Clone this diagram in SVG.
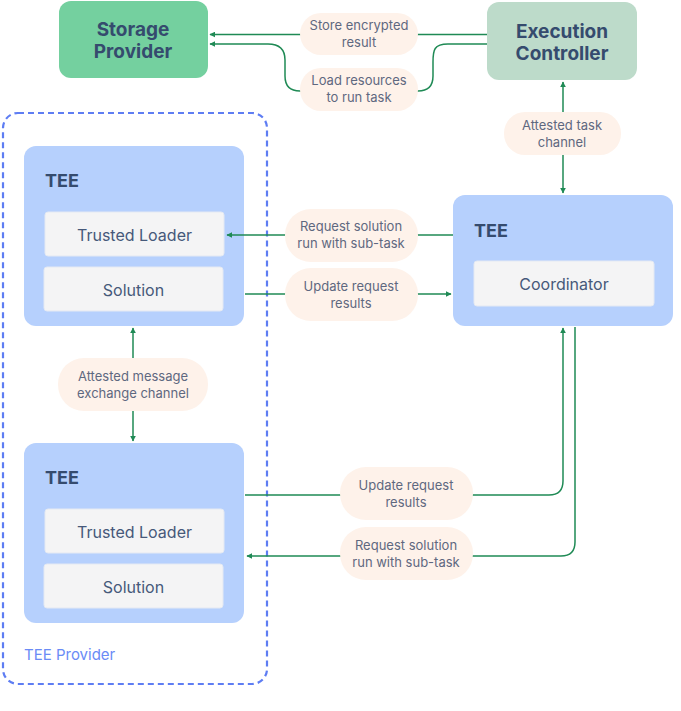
<svg xmlns="http://www.w3.org/2000/svg" width="681" height="711" viewBox="0 0 681 711">
<defs>
<marker id="ah" viewBox="0 0 10 10" refX="9" refY="5" markerWidth="6" markerHeight="6" orient="auto-start-reverse" markerUnits="userSpaceOnUse">
<path d="M0,0 L10,5 L0,10 Z" fill="#1F8A55"/>
</marker>
<style>
.title{font-family:Inter,"Noto Sans",sans-serif;font-weight:700;fill:#354B6E;font-size:19px;text-anchor:middle}
.tee{font-family:Inter,"Noto Sans",sans-serif;font-weight:700;fill:#354B6E;font-size:18px}
.inner{font-family:Inter,"Noto Sans",sans-serif;fill:#46597A;font-size:16px;text-anchor:middle}
.lbl{font-family:Inter,"Noto Sans",sans-serif;fill:#5E6880;font-size:13px;text-anchor:middle}
.pill{fill:#FEF2EA}
.teebox{fill:#B6D0FD}
.innerbox{fill:#F4F4F5;stroke:#E4E9F3;stroke-width:1}
.conn{fill:none;stroke:#1F8A55;stroke-width:1.5}
</style>
</defs>
<rect width="681" height="711" fill="#FFFFFF"/>

<g id="tee-provider">
<rect x="3" y="113" width="264" height="571" rx="15" fill="none" stroke="#5E7DF3" stroke-width="2.2" stroke-dasharray="6 4"/>
<text x="24" y="660" font-family="Inter,'Noto Sans',sans-serif" font-size="15" fill="#6A8BF6">TEE Provider</text>
</g>

<g id="storage-provider">
<rect x="59" y="1" width="149" height="77" rx="12" fill="#74D09F"/>
<text class="title" x="133" y="36">Storage</text>
<text class="title" x="133" y="58">Provider</text>
</g>

<g id="execution-controller">
<rect x="487" y="2" width="150" height="78" rx="12" fill="#BDDBCA"/>
<text class="title" x="562" y="38">Execution</text>
<text class="title" x="562" y="60">Controller</text>
</g>

<g id="tee-1">
<rect class="teebox" x="24" y="146" width="220" height="180" rx="12"/>
<text class="tee" x="45" y="187">TEE</text>
<g id="trusted-loader-1">
<rect class="innerbox" x="45" y="212" width="179" height="44" rx="3"/>
<text class="inner" x="134.5" y="241">Trusted Loader</text>
</g>
<g id="solution-1">
<rect class="innerbox" x="44" y="267" width="179" height="44" rx="3"/>
<text class="inner" x="133.5" y="296">Solution</text>
</g>
</g>

<g id="tee-2">
<rect class="teebox" x="24" y="443" width="220" height="180" rx="12"/>
<text class="tee" x="45" y="484">TEE</text>
<g id="trusted-loader-2">
<rect class="innerbox" x="45" y="509" width="179" height="44" rx="3"/>
<text class="inner" x="134.5" y="538">Trusted Loader</text>
</g>
<g id="solution-2">
<rect class="innerbox" x="44" y="564" width="179" height="44" rx="3"/>
<text class="inner" x="133.5" y="593">Solution</text>
</g>
</g>

<g id="tee-coordinator">
<rect class="teebox" x="453" y="195" width="220" height="131" rx="12"/>
<text class="tee" x="474" y="237">TEE</text>
<g id="coordinator">
<rect class="innerbox" x="474" y="261" width="180" height="45" rx="3"/>
<text class="inner" x="564" y="290">Coordinator</text>
</g>
</g>

<g id="connectors">
<path class="conn" d="M487,34.5 H210" marker-end="url(#ah)"/>
<path class="conn" d="M487,44 H448 C434,44 433,50 433,62 V76 C433,86 428,91 418,91 H300 C290,91 285,86 285,76 V60 C285,50 280,44 268,44 H210" marker-end="url(#ah)"/>
<path class="conn" d="M563,82 V193" marker-start="url(#ah)" marker-end="url(#ah)"/>
<path class="conn" d="M453,235 H227" marker-end="url(#ah)"/>
<path class="conn" d="M245,294 H451" marker-end="url(#ah)"/>
<path class="conn" d="M133,328 V441" marker-start="url(#ah)" marker-end="url(#ah)"/>
<path class="conn" d="M245,495 H549 C558,495 563,490 563,481 V328" marker-end="url(#ah)"/>
<path class="conn" d="M575,327 V542 C575,551 570,556 561,556 H247" marker-end="url(#ah)"/>
<g id="connector-labels">
<rect class="pill" x="300" y="13" width="118" height="42" rx="21"/>
<text class="lbl" x="359" y="30">Store encrypted</text>
<text class="lbl" x="359" y="47">result</text>
<rect class="pill" x="300" y="68" width="118" height="43" rx="21"/>
<text class="lbl" x="359" y="85">Load resources</text>
<text class="lbl" x="359" y="102">to run task</text>
<rect class="pill" x="504" y="112" width="117" height="43" rx="21"/>
<text class="lbl" x="562" y="130">Attested task</text>
<text class="lbl" x="562" y="147">channel</text>
<rect class="pill" x="285" y="209" width="133" height="53" rx="26"/>
<text class="lbl" x="351" y="231">Request solution</text>
<text class="lbl" x="351" y="248">run with sub-task</text>
<rect class="pill" x="285" y="268" width="133" height="53" rx="26"/>
<text class="lbl" x="351" y="291">Update request</text>
<text class="lbl" x="351" y="308">results</text>
<rect class="pill" x="58" y="358" width="150" height="53" rx="26"/>
<text class="lbl" x="133" y="381">Attested message</text>
<text class="lbl" x="133" y="398">exchange channel</text>
<rect class="pill" x="340" y="467" width="133" height="53" rx="26"/>
<text class="lbl" x="406" y="490">Update request</text>
<text class="lbl" x="406" y="507">results</text>
<rect class="pill" x="340" y="527" width="133" height="53" rx="26"/>
<text class="lbl" x="406" y="550">Request solution</text>
<text class="lbl" x="406" y="567">run with sub-task</text>
</g>
</g>
</svg>
